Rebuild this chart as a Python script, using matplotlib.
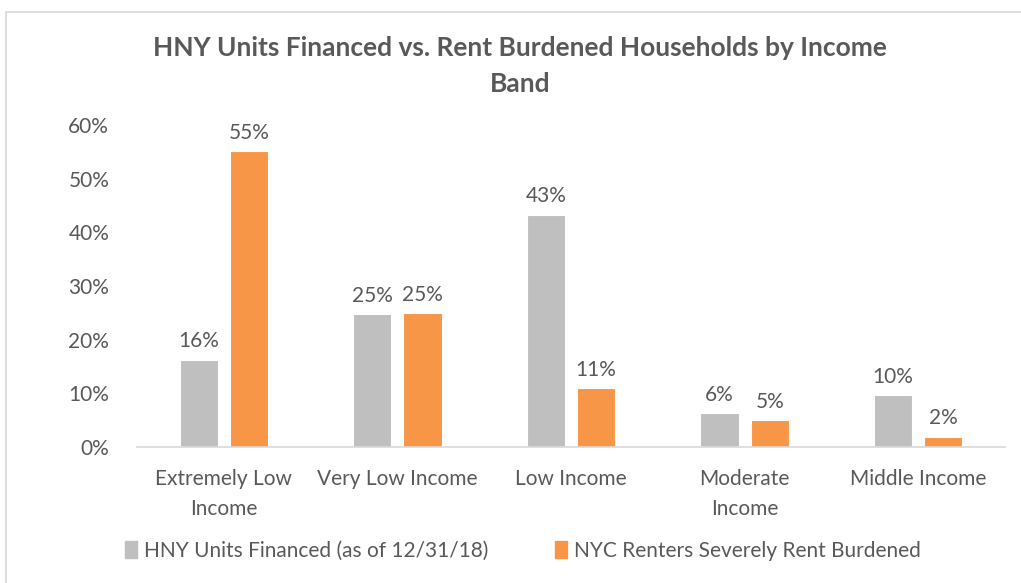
import matplotlib.pyplot as plt
import numpy as np
from matplotlib.patches import Rectangle, Patch

plt.rcParams['font.family'] = ['Lato', 'DejaVu Sans']

categories = ['Extremely Low\nIncome', 'Very Low Income', 'Low Income',
              'Moderate\nIncome', 'Middle Income']
hny_units = [16.3, 24.7, 43.3, 6.3, 9.6]
rent_burdened = [55.1, 25.0, 11.0, 5.0, 1.9]
series_names = ['HNY Units Financed (as of 12/31/18)',
                'NYC Renters Severely Rent Burdened']

gray = '#bfbfbf'
orange = '#f79646'
text_color = '#595959'

fig = plt.figure(figsize=(10.21, 5.83), dpi=100)
fig.patches.append(Rectangle((6 / 1021, -0.1), 1.2, 1 - 12 / 583 + 0.1,
                             transform=fig.transFigure, fill=False,
                             edgecolor='#d9d9d9', linewidth=1.2))

ax = fig.add_axes([137 / 1021, 1 - 447 / 583, 868 / 1021, 322 / 583])

x = np.arange(len(categories))
w = 0.22
off = 0.145
b1 = ax.bar(x - off, hny_units, w, color=gray, edgecolor='white', linewidth=0.8)
b2 = ax.bar(x + off, rent_burdened, w, color=orange, edgecolor='white', linewidth=0.8)

for bars, vals in ((b1, hny_units), (b2, rent_burdened)):
    for rect, v in zip(bars, vals):
        ax.annotate(f'{round(v):.0f}%', (rect.get_x() + rect.get_width() / 2, v),
                    xytext=(0, 6), textcoords='offset points', ha='center',
                    va='bottom', fontsize=15, color=text_color)

ax.set_xlim(-0.5, len(categories) - 0.5)
ax.set_ylim(0, 60)
ax.set_yticks(range(0, 61, 10))
ax.set_yticklabels([f'{t}%' for t in range(0, 61, 10)])
ax.set_xticks(x)
ax.set_xticklabels(categories, linespacing=1.6)
ax.tick_params(axis='y', length=0, pad=20, labelsize=15, labelcolor=text_color)
ax.tick_params(axis='x', length=0, pad=16, labelsize=15, labelcolor=text_color)
for s in ('top', 'right', 'left'):
    ax.spines[s].set_visible(False)
ax.spines['bottom'].set_color('#d9d9d9')
ax.spines['bottom'].set_linewidth(1.2)

fig.text(520 / 1021, 1 - 66 / 583,
         'HNY Units Financed vs. Rent Burdened Households by Income\nBand',
         ha='center', va='center', fontsize=19, fontweight='bold',
         color=text_color, linespacing=1.65)

handles = [Patch(color=gray), Patch(color=orange)]
fig.legend(handles, series_names, loc='center', bbox_to_anchor=(523 / 1021, 1 - 551 / 583),
           ncol=2, frameon=False, fontsize=15, labelcolor=text_color,
           handlelength=0.55, handleheight=0.85, handletextpad=0.35, columnspacing=3.2)

fig.savefig('out.png', dpi=100)
